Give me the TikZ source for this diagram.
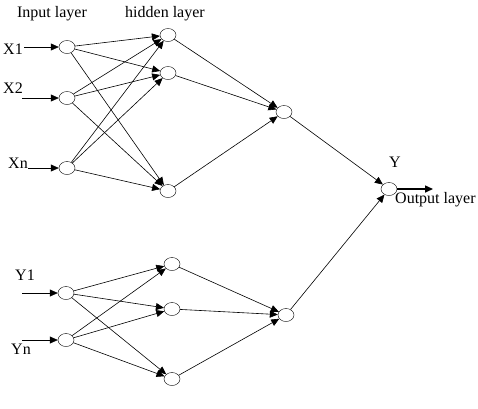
\documentclass[tikz,border=0pt]{standalone}
\usepackage{fontspec}
\setmainfont{Liberation Serif}
\usetikzlibrary{arrows.meta,shapes.geometric,positioning}

\begin{document}
\begin{tikzpicture}[x=1pt,y=-1pt, neu/.style={draw, ellipse, minimum width=16pt, minimum height=13pt, inner sep=0pt}, arr/.style={-{Triangle[length=8pt,width=7pt]}, line width=0.6pt}, lab/.style={font=\fontsize{16}{18}\selectfont, inner sep=0pt}]
\useasboundingbox (0,0) rectangle (478,408);
\node[lab] at (52,14) {Input layer};
\node[lab] at (165,14) {hidden layer};
% X inputs
\foreach \n/\y in {x1/47, x2/98, xn/168} { \node[neu] (\n) at (67,\y) {}; }
\foreach \n/\y in {h1/35, h2/73, h3/191} { \node[neu] (\n) at (168,\y) {}; }
\node[neu] (m1) at (284,112) {};
% Y inputs
\foreach \n/\y in {y1/293, yn/340} { \node[neu] (\n) at (66,\y) {}; }
\foreach \n/\y in {g1/264, g2/309, g3/379} { \node[neu] (\n) at (172,\y) {}; }
\node[neu] (m2) at (286,315) {};
% output
\node[neu] (out) at (389,189) {};
\node[lab] at (395,162) {Y};
\coordinate (yout) at (433,189);
\draw[arr, line width=1.5pt] (out) -- (yout);
\node[lab, anchor=west] at (395,200) {Output layer};
% input arrows
\coordinate (x1s) at (24,47); \coordinate (x2s) at (22,98); \coordinate (xns) at (28,168);
\coordinate (y1s) at (22,293); \coordinate (yns) at (22,340);
\node[lab] at (13,49) {X1};
\node[lab] at (13,88) {X2};
\node[lab] at (18,163) {Xn};
\node[lab] at (25,275) {Y1};
\node[lab] at (21,349) {Yn};
\foreach \s/\t in {x1s/x1, x2s/x2, xns/xn, y1s/y1, yns/yn} { \draw[arr] (\s) -- (\t); }
% links
\foreach \a in {x1,x2,xn} { \foreach \b in {h1,h2,h3} { \draw[arr] (\a) -- (\b); } }
\foreach \a in {h1,h2,h3} { \draw[arr] (\a) -- (m1); }
\foreach \a in {y1,yn} { \foreach \b in {g1,g2,g3} { \draw[arr] (\a) -- (\b); } }
\foreach \a in {g1,g2,g3} { \draw[arr] (\a) -- (m2); }
\draw[arr] (m1) -- (out);
\draw[arr] (m2) -- (out);
\end{tikzpicture}
\end{document}
